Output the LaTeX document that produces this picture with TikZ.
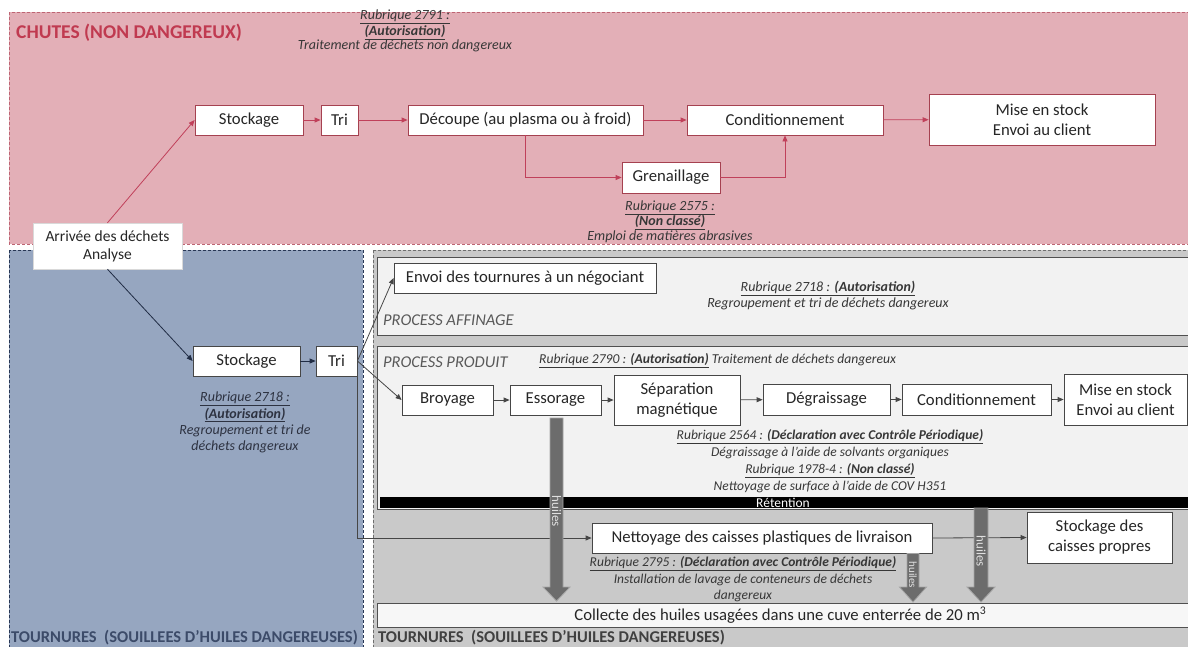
\documentclass[tikz,border=0pt]{standalone}
\usepackage{fontspec}
\setmainfont{Carlito}
\usetikzlibrary{arrows.meta}
\definecolor{pinkfill}{RGB}{227,175,183}
\definecolor{pinkbd}{RGB}{190,100,115}
\definecolor{pinktitle}{RGB}{192,58,80}
\definecolor{pinkline}{RGB}{192,64,90}
\definecolor{pinkbox}{RGB}{165,65,80}
\definecolor{bluefill}{RGB}{150,166,192}
\definecolor{bluebd}{RGB}{40,55,85}
\definecolor{bluetitle}{RGB}{60,75,105}
\definecolor{bluetext}{RGB}{45,50,65}
\definecolor{greyfill}{RGB}{201,201,201}
\definecolor{greybd}{RGB}{110,110,110}
\definecolor{panelfill}{RGB}{242,242,242}
\definecolor{panelbd}{RGB}{80,80,80}
\definecolor{greytitle}{RGB}{64,64,64}
\definecolor{oilfill}{RGB}{108,108,108}
\definecolor{oilbd}{RGB}{165,165,165}
\definecolor{gline}{RGB}{70,70,70}
\definecolor{rubtext}{RGB}{55,55,55}
\begin{document}
\begin{tikzpicture}[x=1pt,y=-1pt,
  boxtext/.style={font=\fontsize{16.7}{20}\selectfont, text=black!85, inner sep=0pt, align=center},
  pbox/.style={boxtext, draw=pinkbox, fill=white, line width=0.8pt},
  gbox/.style={boxtext, draw=gline, fill=white, line width=0.8pt},
  abox/.style={boxtext, font=\fontsize{15.5}{18}\selectfont, draw=black!15, fill=white, line width=0.5pt},
  parr/.style={draw=pinkline, line width=0.8pt, -{Triangle[length=6pt,width=5pt]}},
  barr/.style={draw=bluebd!80!black, line width=0.8pt, -{Triangle[length=6pt,width=5pt]}},
  garr/.style={draw=gline, line width=0.8pt, -{Triangle[length=6pt,width=5pt]}},
  rub/.style={font=\fontsize{14}{16}\selectfont\itshape, text=rubtext, inner sep=0pt, align=center},
  proc/.style={font=\fontsize{16.5}{19}\selectfont\itshape, text=black!65, inner sep=0pt, anchor=west},
  regiondash/.style={dash pattern=on 3pt off 2pt, line width=0.8pt},
  panel/.style={draw=panelbd, fill=panelfill, line width=0.8pt},
  oil/.style={fill=oilfill, draw=oilbd, line width=0.8pt},
  oiltext/.style={font=\fontsize{13}{15}\selectfont, text=white!88!black, inner sep=0pt, rotate=-90},
  ttl/.style={font=\fontsize{16.5}{19}\selectfont\bfseries, inner sep=0pt, anchor=west}
]
\useasboundingbox (0,0) rectangle (1188,646);
\fill[white] (0,0) rectangle (1188,646);

% regions
\draw[regiondash, draw=pinkbd, fill=pinkfill] (9,12) rectangle (1195,244);
\draw[regiondash, draw=bluebd, fill=bluefill] (9,250) rectangle (363,652);
\draw[regiondash, draw=greybd, fill=greyfill] (373,250) rectangle (1195,652);

% grey panels
\draw[panel] (377,257) rectangle (1195,335);
\draw[panel] (377,346) rectangle (1195,509);
\fill[black] (380,497) rectangle (1195,508);
\node[font=\fontsize{13.5}{15}\selectfont, text=white, inner sep=0pt] (ret) at (783,502.5) {Rétention};

% titles
\node[ttl, font=\fontsize{19.5}{22}\selectfont\bfseries, text=pinktitle] (tchutes) at (16,33) {CHUTES (NON DANGEREUX)};
\node[ttl, text=bluetitle] (tblue) at (11,638) {TOURNURES\ \ (SOUILLEES D’HUILES DANGEREUSES)};
\node[ttl, text=greytitle] (tgrey) at (378,638) {TOURNURES\ \ (SOUILLEES D’HUILES DANGEREUSES)};

% pink nodes
\node[pbox, minimum width=108, minimum height=30] (stA) at (249,120) {Stockage};
\node[pbox, minimum width=37, minimum height=30] (triA) at (339.5,120) {Tri};
\node[pbox, minimum width=235, minimum height=30] (decA) at (525.5,120) {Découpe (au plasma ou à froid)};
\node[pbox, minimum width=196, minimum height=30] (condA) at (785,120) {Conditionnement};
\node[pbox, minimum width=226, minimum height=51] (miseA) at (1042,119.5) {Mise en stock\\Envoi au client};
\node[pbox, minimum width=98, minimum height=31] (grenA) at (671,177.5) {Grenaillage};

\node[rub, font=\fontsize{14}{14.5}\selectfont\itshape] (r2791) at (405,31) {\underline{Rubrique 2791 :}\\\underline{\textbf{(Autorisation)}}\\Traitement de déchets non dangereux};
\node[rub, font=\fontsize{14}{15}\selectfont\itshape] (r2575) at (670,222) {\underline{Rubrique 2575 :}\\\underline{\textbf{(Non classé)}}\\Emploi de matières abrasives};

% blue nodes
\node[gbox, minimum width=107, minimum height=30] (stB) at (246.5,361) {Stockage};
\node[gbox, minimum width=41, minimum height=30] (triB) at (336.5,361) {Tri};
\node[rub, font=\fontsize{14}{16.3}\selectfont\itshape, text=bluetext] (r2718b) at (245,422.5) {\underline{Rubrique 2718 :}\\\underline{\textbf{(Autorisation)}}\\Regroupement et tri de\\déchets dangereux};

% grey nodes
\node[gbox, minimum width=262, minimum height=30] (envoi) at (525,278) {Envoi des tournures à un négociant};
\node[proc] (paff) at (383,320) {PROCESS AFFINAGE};
\node[rub] (r2718a) at (828,296) {\underline{Rubrique 2718 : \textbf{(Autorisation)}}\\Regroupement et tri de déchets dangereux};
\node[proc] (pprod) at (383,362) {PROCESS PRODUIT};
\node[rub, font=\fontsize{13.6}{16}\selectfont\itshape, anchor=west] (r2790) at (539,361) {\underline{Rubrique 2790 : \textbf{(Autorisation)}} Traitement de déchets dangereux};

\node[gbox, minimum width=91, minimum height=30] (broy) at (447.5,400) {Broyage};
\node[gbox, minimum width=91, minimum height=30] (esso) at (555.5,400) {Essorage};
\node[gbox, minimum width=126, minimum height=50] (sep) at (677,400) {Séparation\\magnétique};
\node[gbox, minimum width=127, minimum height=31] (degr) at (826.5,399.5) {Dégraissage};
\node[gbox, minimum width=149, minimum height=31] (condB) at (976.5,399.5) {Conditionnement};
\node[gbox, minimum width=123, minimum height=51] (miseB) at (1125.5,399.5) {Mise en stock\\Envoi au client};

\node[rub, font=\fontsize{13.5}{17}\selectfont\itshape] (r2564) at (830,461.5) {\underline{Rubrique 2564 : \textbf{(Déclaration avec Contrôle Périodique)}}\\Dégraissage à l’aide de solvants organiques\\\underline{Rubrique 1978-4 : \textbf{(Non classé)}}\\Nettoyage de surface à l’aide de COV H351};

\node[gbox, minimum width=340, minimum height=30] (net) at (762,538) {Nettoyage des caisses plastiques de livraison};
\node[gbox, minimum width=145, minimum height=51] (stC) at (1099.5,537.5) {Stockage des\\caisses propres};
\node[rub, font=\fontsize{13.5}{16.5}\selectfont\itshape] (r2795) at (743,579.5) {\underline{Rubrique 2795 : \textbf{(Déclaration avec Contrôle Périodique)}}\\Installation de lavage de conteneurs de déchets\\dangereux};

% arrival
\node[abox, minimum width=149, minimum height=46] (arr) at (107.5,246) {Arrivée des déchets\\Analyse};

% pink connectors
\draw[parr] (arr.north) -- (stA.west);
\draw[parr] (stA) -- (triA);
\draw[parr] (triA) -- (decA);
\draw[parr] (decA) -- (condA);
\draw[parr] (condA) -- (miseA);
\draw[parr] (decA.south) |- (grenA.west);
\draw[parr] (grenA.east) -| (condA.south);

% blue / grey connectors
\draw[barr] (arr.south) -- (stB.west);
\draw[barr] (stB) -- (triB);
\draw[garr] (triB.east) -- (envoi.west);
\draw[garr] (triB.east) -- (broy.west);
\draw[garr] (triB.east) |- (net.west);
\draw[garr] (broy) -- (esso);
\draw[garr] (esso) -- (sep);
\draw[garr] (sep) -- (degr);
\draw[garr] (degr) -- (condB);
\draw[garr] (condB) -- (miseB);
\draw[garr] (net.east) -- (stC.west);

% collecte
\node[boxtext, draw=panelbd, fill=white!97!black, line width=0.8pt, minimum width=818, minimum height=24, anchor=west] (coll) at (377,615) {\hspace{-6pt}Collecte des huiles usagées dans une cuve enterrée de 20 m\textsuperscript{3}\hspace{6pt}};

% oil arrows
\draw[oil] (550,418) -- (563,418) -- (563,587) -- (570,587) -- (556.5,601) -- (543,587) -- (550,587) -- cycle;
\node[oiltext] (h1) at (556.5,511) {huiles};
\draw[oil] (907,553.4) -- (919,553.4) -- (919,587) -- (926.5,587) -- (913,602) -- (899.5,587) -- (907,587) -- cycle;
\node[oiltext, font=\fontsize{11}{12}\selectfont] (h2) at (913,575) {huiles};
\draw[oil] (974,508) -- (988,508) -- (988,587) -- (995,587) -- (981,602) -- (967,587) -- (974,587) -- cycle;
\node[oiltext] (h3) at (981,551) {huiles};
\end{tikzpicture}
\end{document}
